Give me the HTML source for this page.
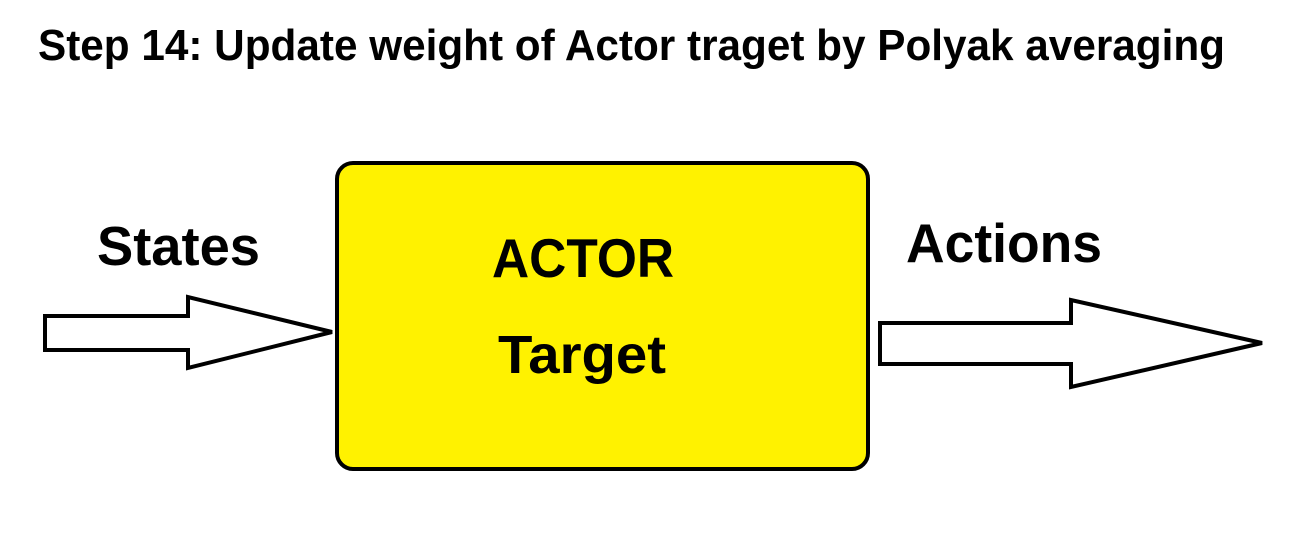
<!DOCTYPE html>
<html><head><meta charset="utf-8"><style>html,body{margin:0;padding:0;background:#fff;}</style></head>
<body>
<svg width="1305" height="533" viewBox="0 0 1305 533" xmlns="http://www.w3.org/2000/svg" style="display:block">
<rect width="1305" height="533" fill="#fff"/>
<g font-family="'Liberation Sans', sans-serif" font-weight="bold" fill="#000">
<text x="38" y="60" font-size="44" textLength="1187" lengthAdjust="spacingAndGlyphs">Step 14: Update weight of Actor traget by Polyak averaging</text>
</g>
<rect x="337" y="163" width="531" height="306" rx="16" ry="16" fill="#fff200" stroke="#000" stroke-width="4"/>
<polygon points="45,316 188,316 188,297 332,332 188,368 188,350 45,350" fill="#fff" stroke="#000" stroke-width="4" stroke-linejoin="miter"/>
<polygon points="880,323 1071,323 1071,300 1262,343 1071,387 1071,364 880,364" fill="#fff" stroke="#000" stroke-width="4"/>
<g font-family="'Liberation Sans', sans-serif" font-weight="bold" fill="#000">
<text x="97" y="265" font-size="55" textLength="163" lengthAdjust="spacingAndGlyphs">States</text>
<text x="906" y="262" font-size="55" textLength="196" lengthAdjust="spacingAndGlyphs">Actions</text>
<text x="492" y="277" font-size="55" textLength="182" lengthAdjust="spacingAndGlyphs">ACTOR</text>
<text x="498" y="373" font-size="54" textLength="168" lengthAdjust="spacingAndGlyphs">Target</text>
</g>
</svg>
</body></html>
